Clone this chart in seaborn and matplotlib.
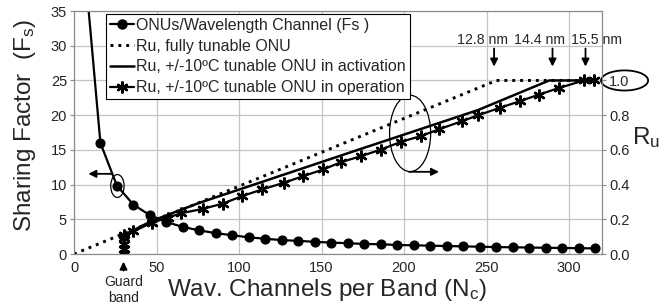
import numpy as np
import pandas as pd
import seaborn as sns
import matplotlib.pyplot as plt
from matplotlib.patches import Ellipse
from matplotlib.lines import Line2D

# data
nc_fs = [6, 16, 26, 36, 46, 56, 66, 76, 86, 96, 106, 116, 126, 136, 146, 156,
         166, 176, 186, 196, 206, 216, 226, 236, 246, 256, 266, 276, 286, 296, 306, 316]
fs = [42.7, 16.0, 9.85, 7.1, 5.6, 4.6, 3.9, 3.4, 3.0, 2.7, 2.4, 2.2, 2.0, 1.9, 1.75, 1.65,
      1.55, 1.45, 1.4, 1.3, 1.25, 1.2, 1.15, 1.1, 1.05, 1.0, 0.97, 0.93, 0.9, 0.87, 0.84, 0.81]

nc_full = [0, 256, 316]
ru_full = [0.0, 1.0, 1.0]

nc_act = [30, 47, 76, 173, 245, 288, 316]
ru_act = [0.108, 0.19, 0.295, 0.603, 0.83, 1.0, 1.0]

nc_op = [30, 30, 30, 30, 30, 36, 47, 57, 65, 78, 90, 102, 114, 127, 139, 151, 162,
         174, 186, 198, 210, 221, 235, 245, 258, 270, 282, 294, 309, 315]
ru_op = [0.0, 0.03, 0.06, 0.09, 0.108, 0.13, 0.18, 0.21, 0.235, 0.26, 0.29, 0.334,
         0.372, 0.41, 0.449, 0.487, 0.53, 0.564, 0.602, 0.646, 0.679, 0.718, 0.765,
         0.80, 0.842, 0.88, 0.919, 0.957, 1.0, 1.0]

labels = ['ONUs/Wavelength Channel (Fs )', 'Ru, fully tunable ONU',
          'Ru, +/-10\u00baC tunable ONU in activation',
          'Ru, +/-10\u00baC tunable ONU in operation']

nm_labels = ['12.8 nm', '14.4 nm', '15.5 nm']
nm_arrow_x = [254.6, 290, 310]
nm_text_x = [247.8, 282, 316.5]

sns.set_style('white')
plt.rcParams['font.family'] = ['Liberation Sans', 'DejaVu Sans']
plt.rcParams['mathtext.fontset'] = 'custom'
plt.rcParams['mathtext.rm'] = 'Liberation Sans'
plt.rcParams['mathtext.it'] = 'Liberation Sans'

fig = plt.figure(figsize=(6.68, 3.06), dpi=100)
ax = fig.add_axes([0.1108, 0.1699, 0.7904, 0.794])
ax2 = ax.twinx()
ax2.patch.set_visible(False)

dotted = (0, (1, 1.7))
star = (6, 2, 0)

sns.lineplot(x=nc_fs, y=fs, ax=ax, color='black', lw=1.6, marker='o', markersize=6.5,
             markeredgecolor='black', markeredgewidth=0.8, estimator=None, sort=False,
             legend=False)
sns.lineplot(x=nc_full, y=ru_full, ax=ax2, color='black', lw=2.1, linestyle=dotted,
             estimator=None, sort=False, legend=False)
sns.lineplot(x=nc_act, y=ru_act, ax=ax2, color='black', lw=1.8,
             estimator=None, sort=False, legend=False)
sns.lineplot(x=nc_op, y=ru_op, ax=ax2, color='black', lw=1.6, marker=star,
             markersize=8.5, markeredgecolor='black', markeredgewidth=1.7,
             estimator=None, sort=False, legend=False)

ax.set_xlim(0, 320)
ax.set_ylim(0, 35)
ax2.set_ylim(0, 1.4)
ax.set_xticks(range(0, 301, 50))
ax.set_yticks(range(0, 36, 5))
ax2.set_yticks([0.0, 0.2, 0.4, 0.6, 0.8, 1.0])
ax2.set_yticklabels(['%.1f' % v for v in [0.0, 0.2, 0.4, 0.6, 0.8, 1.0]])

ax.grid(True, color='#c4c4c4', lw=0.9)
ax2.grid(False)
for a in (ax, ax2):
    for s in a.spines.values():
        s.set_color('#8a8a8a')
        s.set_linewidth(0.8)
    a.tick_params(labelsize=10.5, length=3, color='#8a8a8a', pad=2)

ax.set_xlabel('Wav. Channels per Band (N$_\\mathregular{c}$)', fontsize=17.5)
ax.xaxis.label.set_va('center')
ax.xaxis.set_label_coords(0.479, -0.15)
ax.set_ylabel('Sharing Factor  (F$_\\mathregular{s}$)', fontsize=17.5)
ax.yaxis.label.set_va('center')
ax.yaxis.set_label_coords(-0.093, 0.53)
ax2.set_ylabel('R$_\\mathregular{u}$', fontsize=17.5, rotation=0)
ax2.yaxis.label.set_va('center')
ax2.yaxis.label.set_ha('center')
ax2.yaxis.set_label_coords(1.084, 0.48)

# legend
handles = [
    Line2D([], [], color='black', lw=1.6, marker='o', markersize=6.5),
    Line2D([], [], color='black', lw=2.1, linestyle=dotted),
    Line2D([], [], color='black', lw=1.8),
    Line2D([], [], color='black', lw=1.6, marker=star, markersize=8.5, markeredgewidth=1.7),
]
leg = ax2.legend(handles, labels, loc='upper left', bbox_to_anchor=(0.0606, 0.988),
                 fontsize=11.5, frameon=True, fancybox=False, framealpha=1,
                 edgecolor='black', borderpad=0.25, labelspacing=0.36,
                 handlelength=1.5, handletextpad=0.15, borderaxespad=0)
leg.get_frame().set_linewidth(0.8)

arrow = dict(arrowstyle='-|>', color='black', lw=1.3, mutation_scale=11,
             shrinkA=0, shrinkB=0)

# guard band
ax.annotate('Guard\nband', xy=(30, -1.1), xytext=(30, -5.2), ha='center', va='center',
            fontsize=10, linespacing=1.15, arrowprops=dict(arrow, shrinkA=1),
            annotation_clip=False)

# wavelength range labels
for lab, xa, xt in zip(nm_labels, nm_arrow_x, nm_text_x):
    ax.annotate('', xy=(xa, 27.0), xytext=(xa, 29.6), arrowprops=arrow)
    ax.text(xt, 30.9, lab, ha='center', va='center', fontsize=10.2)

# left pointing arrow and ellipse on the Fs curve
ax.annotate('', xy=(8.7, 11.55), xytext=(22.9, 11.55), arrowprops=arrow)
ax.add_patch(Ellipse((26.3, 9.8), 8.1, 3.3, fill=False, color='black', lw=0.9))

# big ellipse and right pointing arrow on the Ru curves
ax2.add_patch(Ellipse((203.7, 17.37 / 25), 24.9, 11.0 / 25, fill=False, color='black', lw=0.9))
ax2.annotate('', xy=(221.2, 11.84 / 25), xytext=(203, 11.84 / 25), arrowprops=arrow)

# ellipse round the 1.0 label
ax2.add_patch(Ellipse((333.7, 1.0), 28.5, 2.9 / 25, fill=False, color='black', lw=1.3,
                      clip_on=False))

fig.savefig('out.png', dpi=100)
